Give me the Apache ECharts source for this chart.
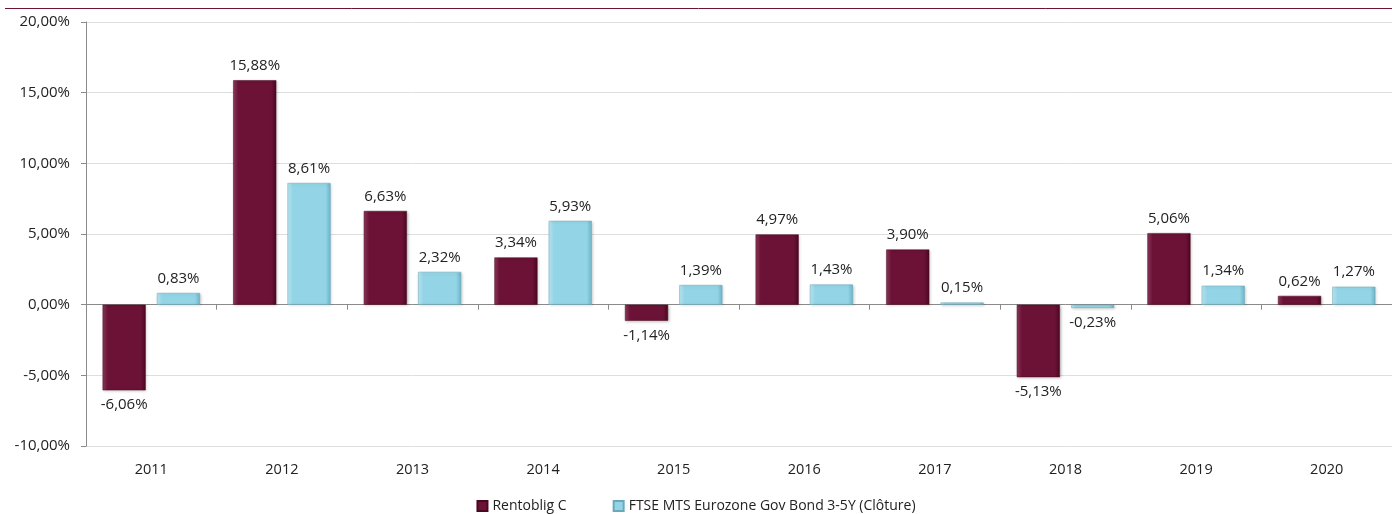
<!DOCTYPE html>
<html>
<head>
<meta charset="utf-8">
<script src="https://cdn.jsdelivr.net/npm/echarts@6/dist/echarts.min.js"></script>
<style>
  html, body { margin: 0; padding: 0; background: #fff; }
  #chart { width: 1392px; height: 514px; }
</style>
</head>
<body>
<div id="chart"></div>
<script>
// données (en %)
const years = ['2011', '2012', '2013', '2014', '2015', '2016', '2017', '2018', '2019', '2020'];
const rentoblig = [-6.06, 15.88, 6.63, 3.34, -1.14, 4.97, 3.90, -5.13, 5.06, 0.62];
const ftse = [0.83, 8.61, 2.32, 5.93, 1.39, 1.43, 0.15, -0.23, 1.34, 1.27];
const seriesNames = ['Rentoblig C', 'FTSE MTS Eurozone Gov Bond 3-5Y (Clôture)'];

const fmt = (v) => v.toFixed(2).replace('.', ',') + '%';

// position du label selon le signe
const withLabels = (arr) => arr.map((v) => ({
  value: v,
  label: { position: v < 0 ? 'bottom' : 'top' }
}));

const wine = new echarts.graphic.LinearGradient(0, 0, 1, 0, [
  { offset: 0, color: '#8e3a5c' },
  { offset: 0.12, color: '#6c1236' },
  { offset: 0.88, color: '#6c1236' },
  { offset: 1, color: '#4d0822' }
]);
const sky = new echarts.graphic.LinearGradient(0, 0, 1, 0, [
  { offset: 0, color: '#bfe8f2' },
  { offset: 0.12, color: '#93d5e7' },
  { offset: 0.88, color: '#93d5e7' },
  { offset: 1, color: '#6fb4c8' }
]);

const chart = echarts.init(document.getElementById('chart'));
const labelStyle = {
  show: true,
  distance: 7,
  fontFamily: 'Open Sans',
  fontSize: 15,
  color: '#222',
  formatter: (p) => fmt(p.value)
};

chart.setOption({
  animation: false,
  textStyle: { fontFamily: 'Open Sans' },
  graphic: [{
    type: 'line',
    shape: { x1: 5, y1: 8.5, x2: 1392, y2: 8.5 },
    style: { stroke: '#6e1233', lineWidth: 1 }
  }],
  grid: { left: 86, top: 22, width: 1313, height: 424, containLabel: false },
  legend: {
    top: 494,
    left: 'center',
    itemWidth: 10,
    itemHeight: 10,
    itemGap: 46,
    icon: 'rect',
    textStyle: { fontSize: 14, color: '#222', fontFamily: 'Open Sans' },
    data: [
      { name: seriesNames[0], itemStyle: { color: '#6c1236' } },
      { name: seriesNames[1], itemStyle: { color: '#93d5e7' } }
    ]
  },
  xAxis: [
    {
      type: 'category',
      data: years,
      axisLine: { onZero: true, lineStyle: { color: '#8a8a8a' } },
      axisTick: { show: true, length: 5, lineStyle: { color: '#8a8a8a' } },
      axisLabel: { show: false }
    },
    {
      type: 'category',
      data: years,
      position: 'bottom',
      axisLine: { show: false, onZero: false },
      axisTick: { show: false },
      axisLabel: { margin: 16, fontSize: 14.5, color: '#222' }
    }
  ],
  yAxis: {
    type: 'value',
    min: -10,
    max: 20,
    interval: 5,
    axisLine: { show: true, lineStyle: { color: '#8a8a8a' } },
    axisTick: { show: true, length: 5, lineStyle: { color: '#8a8a8a' } },
    axisLabel: { margin: 16, fontSize: 15, color: '#222', formatter: (v) => fmt(v) },
    splitLine: { lineStyle: { color: '#dedede' } }
  },
  series: [
    {
      name: seriesNames[0],
      type: 'bar',
      xAxisIndex: 0,
      data: withLabels(rentoblig),
      barWidth: '33%',
      barGap: '26%',
      itemStyle: { color: wine, borderColor: '#4a0820', borderWidth: 0.5,
        shadowColor: 'rgba(0,0,0,0.25)', shadowBlur: 3, shadowOffsetX: 1, shadowOffsetY: 1 },
      label: labelStyle
    },
    {
      name: seriesNames[1],
      type: 'bar',
      xAxisIndex: 0,
      data: withLabels(ftse),
      barWidth: '33%',
      itemStyle: { color: sky, borderColor: '#6aa9bb', borderWidth: 0.5,
        shadowColor: 'rgba(0,0,0,0.2)', shadowBlur: 3, shadowOffsetX: 1, shadowOffsetY: 1 },
      label: labelStyle
    }
  ]
});
</script>
</body>
</html>
